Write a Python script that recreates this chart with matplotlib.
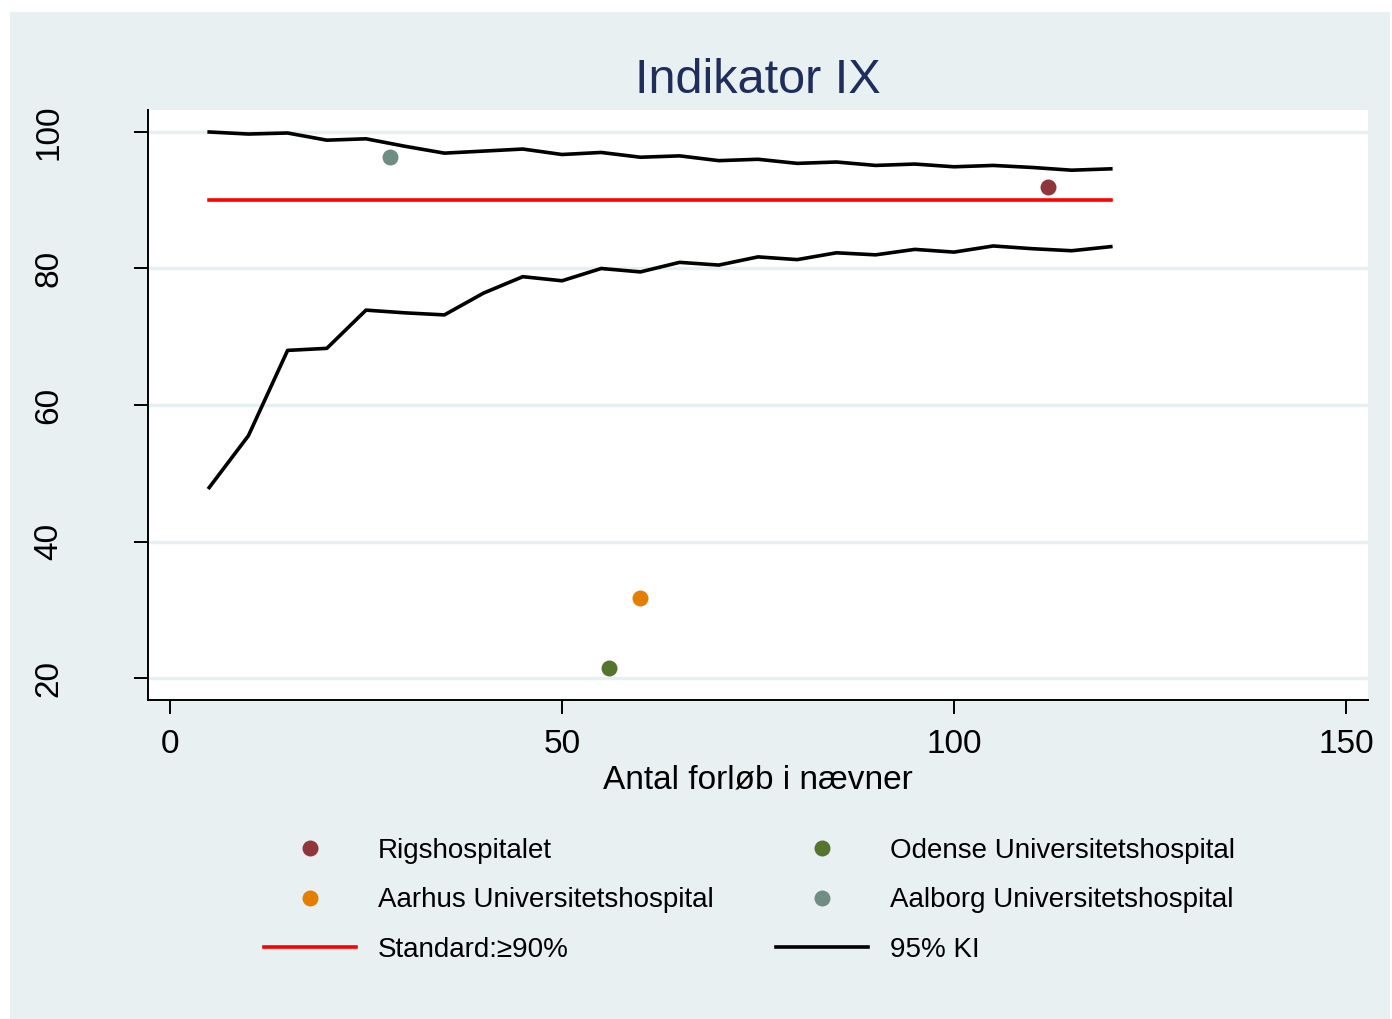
import matplotlib.pyplot as plt
from matplotlib.lines import Line2D
from matplotlib.patches import Rectangle

plt.rcParams['font.family'] = ['Liberation Sans', 'DejaVu Sans']

# ---- data -------------------------------------------------
hospitals = ['Rigshospitalet', 'Aarhus Universitetshospital',
             'Odense Universitetshospital', 'Aalborg Universitetshospital']
hosp_n = [112, 60, 56, 28]
hosp_pct = [92.0, 31.7, 21.4, 96.4]
hosp_colors = ['#90353b', '#e37e00', '#55752f', '#6e8e84']

ki_n = [5, 10, 15, 20, 25, 30, 35, 40, 45, 50, 55, 60,
        65, 70, 75, 80, 85, 90, 95, 100, 105, 110, 115, 120]
ki_upper = [100.0, 99.7, 99.85, 98.8, 99.0, 97.9, 96.9, 97.2, 97.5, 96.7, 97.0, 96.3,
            96.5, 95.8, 96.0, 95.4, 95.6, 95.1, 95.3, 94.9, 95.1, 94.8, 94.4, 94.6]
ki_lower = [47.9, 55.5, 68.0, 68.3, 73.9, 73.5, 73.2, 76.4, 78.8, 78.2, 80.0, 79.5,
            80.9, 80.5, 81.7, 81.3, 82.3, 82.0, 82.8, 82.4, 83.3, 82.9, 82.6, 83.2]

standard = 90
std_range = [5, 120]

xticks = [0, 50, 100, 150]
yticks = [20, 40, 60, 80, 100]

bg = '#e9f0f2'
grid_c = '#e6eff2'

# ---- figure -----------------------------------------------
fig = plt.figure(figsize=(13.92, 10.19), dpi=100, facecolor='white')
fig.patches.append(Rectangle((10 / 1392, 0), 1380 / 1392, 1007 / 1019,
                             transform=fig.transFigure, facecolor=bg,
                             edgecolor='none', zorder=-10))

ax = fig.add_axes([148 / 1392, 1 - 700 / 1019, 1220 / 1392, 590 / 1019])
ax.set_facecolor('white')
ax.set_xlim(-2.806, 152.806)
ax.set_ylim(16.78, 103.22)

for y in yticks:
    ax.axhline(y, color=grid_c, lw=2.4, zorder=0)

ax.plot(ki_n, ki_upper, color='black', lw=2.6, zorder=2)
ax.plot(ki_n, ki_lower, color='black', lw=2.6, zorder=2)
ax.plot(std_range, [standard, standard], color='#ff0000', lw=2.6, zorder=2)

for n, p, c in zip(hosp_n, hosp_pct, hosp_colors):
    ax.plot(n, p, 'o', color=c, ms=11.5, mec='none', zorder=3)

for s in ['top', 'right']:
    ax.spines[s].set_visible(False)
for s in ['left', 'bottom']:
    ax.spines[s].set_linewidth(1.4)

ax.set_xticks(xticks)
ax.set_yticks(yticks)
ax.tick_params(axis='both', length=10, width=1.4, labelsize=24)
ax.tick_params(axis='x', pad=11)
ax.tick_params(axis='y', pad=50)
for lab in ax.get_yticklabels():
    lab.set_rotation(90)
    lab.set_va('center')

ax.set_title('Indikator IX', fontsize=35, color='#1f2d5a', pad=12)
ax.set_xlabel('Antal forløb i nævner', fontsize=24, labelpad=3)

# legend: column-wise fill
handles = [
    Line2D([], [], marker='o', ls='none', color=hosp_colors[0], ms=11.5, mec='none'),
    Line2D([], [], marker='o', ls='none', color=hosp_colors[1], ms=11.5, mec='none'),
    Line2D([], [], color='#ff0000', lw=2.6),
    Line2D([], [], marker='o', ls='none', color=hosp_colors[2], ms=11.5, mec='none'),
    Line2D([], [], marker='o', ls='none', color=hosp_colors[3], ms=11.5, mec='none'),
    Line2D([], [], color='black', lw=2.6),
]
labels = [hospitals[0], hospitals[1], 'Standard:\u226590%',
          hospitals[2], hospitals[3], '95% KI']
fig.legend(handles, labels, ncol=2, loc='upper left',
           bbox_to_anchor=(264 / 1392, 1 - 838 / 1019),
           frameon=False, fontsize=20, handlelength=3.3, handletextpad=0.8,
           columnspacing=2.25, labelspacing=0.84, borderpad=0, borderaxespad=0)

fig.savefig('out.png', dpi=100, facecolor='white')
